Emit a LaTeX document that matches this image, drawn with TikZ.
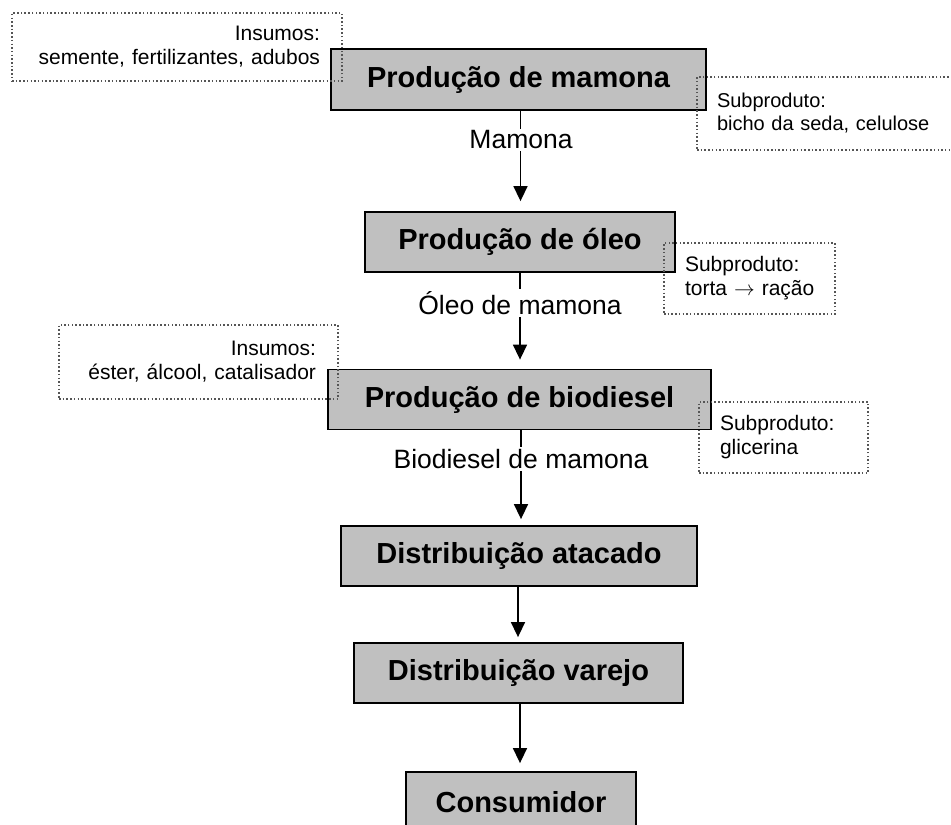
\documentclass[tikz,border=0pt]{standalone}
\usepackage{fontspec}
\setmainfont{Liberation Sans}
\usetikzlibrary{arrows.meta,calc}
\definecolor{boxgray}{HTML}{C0C0C0}
\definecolor{dotgray}{HTML}{555555}
\tikzset{
  stage/.style={draw=black, line width=1.8pt, fill=boxgray, inner sep=0pt,
    font=\fontsize{29}{34}\selectfont\bfseries},
  flow/.style={line width=1.5pt, -{Triangle[length=15pt,width=14pt]}},
  lbl/.style={fill=white, inner xsep=1pt, inner ysep=2pt, font=\fontsize{26.5}{30}\selectfont},
  side/.style={draw=dotgray, line width=1.5pt, dash pattern=on 1.5pt off 2.2pt,
    inner ysep=0pt, font=\fontsize{21}{24}\selectfont},
}
\begin{document}
\begin{tikzpicture}[x=1pt,y=-1pt]
\useasboundingbox (0,0) rectangle (951,825);
\clip (0,0) rectangle (951,825);
% main stages
\node[stage, minimum width=375pt, minimum height=61pt] (b1) at (518.5,79.5) {Produção de mamona};
\node[stage, minimum width=310pt, minimum height=60pt] (b2) at (520,242) {Produção de óleo};
\node[stage, minimum width=383pt, minimum height=60pt] (b3) at (519.5,399.5) {Produção de biodiesel};
\node[stage, minimum width=356pt, minimum height=60pt] (b4) at (519,556) {Distribuição atacado};
\node[stage, minimum width=329pt, minimum height=60pt] (b5) at (518.5,673) {Distribuição varejo};
\node[stage, minimum width=230pt, minimum height=60pt] (b6) at (521,802) {Consumidor};
% arrows
\draw[flow, shorten >=10pt] ([xshift=2pt]b1.south) -- ([xshift=2pt]b1.south |- b2.north);
\draw[flow, shorten >=9pt] (b2.south) -- (b2.south |- b3.north);
\draw[flow, shorten >=6pt] ([xshift=1.5pt]b3.south) -- ([xshift=1.5pt]b3.south |- b4.north);
\draw[flow, shorten >=5pt] ([xshift=-1pt]b4.south) -- ([xshift=-1pt]b4.south |- b5.north);
\draw[flow, shorten >=8pt] ([xshift=1.5pt]b5.south) -- ([xshift=1.5pt]b5.south |- b6.north);
% arrow labels
\node[lbl] (l1) at (521,140) {Mamona};
\node[lbl] (l2) at (520,303) {Óleo de mamona};
\node[lbl] (l3) at (521,459) {Biodiesel de mamona};
% side boxes
\node[side, minimum width=330pt, minimum height=68pt, inner xsep=22pt, text width=286pt, align=right] (i1) at (177,47) {Insumos:\\semente, fertilizantes, adubos};
\node[side, minimum width=265pt, minimum height=73pt, inner xsep=20pt, text width=225pt, align=left, font=\fontsize{20}{23}\selectfont] (s1) at (829.5,113.5) {Subproduto:\\bicho da seda, celulose};
\node[side, minimum width=171pt, minimum height=71pt, inner xsep=21pt, text width=129pt, align=left] (s2) at (749.5,278.5) {Subproduto:\\\mbox{torta $\rightarrow$ ração}};
\node[side, minimum width=279pt, minimum height=74pt, inner xsep=22pt, text width=235pt, align=right] (i2) at (198.5,362) {Insumos:\\éster, álcool, catalisador};
\node[side, minimum width=169pt, minimum height=71pt, inner xsep=21pt, text width=127pt, align=left] (s3) at (783.5,437.5) {Subproduto:\\glicerina};
\end{tikzpicture}
\end{document}
